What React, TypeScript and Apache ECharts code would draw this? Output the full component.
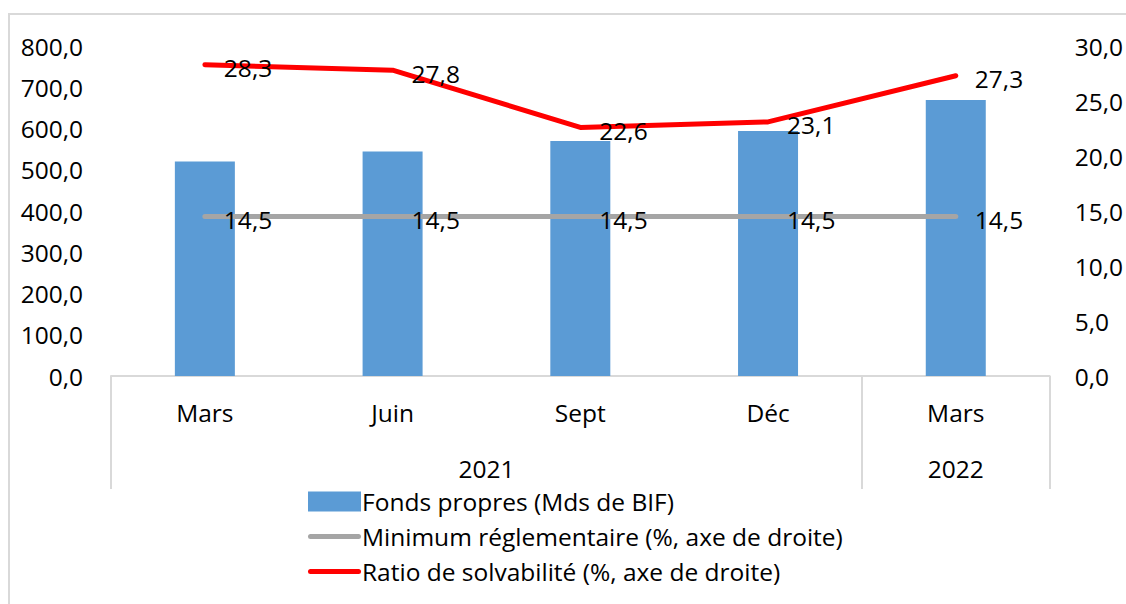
import React, { useEffect, useRef } from "react";
import * as echarts from "echarts";

const categories = ["Mars", "Juin", "Sept", "Déc", "Mars"];
const years = ["2021", "2022"];
const yearCenters = [2, 4.5];
const yearSeparators = [0, 4, 5];
const fondsPropres = [520, 544, 570, 594, 669];
const minimumReglementaire = [14.5, 14.5, 14.5, 14.5, 14.5];
const ratioSolvabilite = [28.3, 27.8, 22.6, 23.1, 27.3];
const seriesNames = [
  "Fonds propres (Mds de BIF)",
  "Minimum réglementaire (%, axe de droite)",
  "Ratio de solvabilité (%, axe de droite)",
];

const FONT = "'Open Sans', 'Noto Sans', sans-serif";
const FS = 24.5;
const fmt = (v: number) => v.toFixed(1).replace(".", ",");
const lineIcon =
  "path://M2.5,0 L50.5,0 A2.5,2.5 0 0 1 50.5,5 L2.5,5 A2.5,2.5 0 0 1 2.5,0 Z";

export default function App() {
  const ref = useRef<HTMLDivElement>(null);
  useEffect(() => {
    if (!ref.current) return;
    const chart = echarts.init(ref.current, null, { renderer: "svg" });
    const labelStyle = {
      show: true,
      position: "right" as const,
      distance: 19,
      offset: [0, 3],
      formatter: (p: any) => fmt(p.value),
      fontFamily: FONT,
      fontSize: FS,
      color: "#000",
    };
    chart.setOption({
      animation: false,
      textStyle: { fontFamily: FONT },
      grid: { left: 111, right: 73, top: 46, bottom: 228, containLabel: false },
      graphic: [
        {
          type: "rect",
          shape: { x: 9, y: 14, width: 1300, height: 800 },
          style: { fill: "none", stroke: "#D9D9D9", lineWidth: 2 },
          silent: true,
          z: -10,
        },
      ],
      legend: {
        orient: "vertical",
        left: 303,
        top: 484,
        itemWidth: 53,
        itemHeight: 20,
        itemGap: 10,
        textStyle: { fontFamily: FONT, fontSize: FS, color: "#000", padding: [0, 0, 0, -4] },
        data: [
          { name: seriesNames[0], icon: "rect" },
          { name: seriesNames[1], icon: lineIcon },
          { name: seriesNames[2], icon: lineIcon },
        ],
      },
      xAxis: [
        {
          type: "category",
          data: categories,
          axisLine: { lineStyle: { color: "#D9D9D9", width: 2 } },
          axisTick: { show: false },
          axisLabel: { margin: 24, fontFamily: FONT, fontSize: FS, color: "#000" },
        },
        {
          type: "value",
          min: 0,
          max: 5,
          position: "bottom",
          splitLine: { show: false },
          axisLine: { show: false },
          axisTick: {
            show: true,
            customValues: yearSeparators,
            length: 113,
            lineStyle: { color: "#D9D9D9", width: 2 },
          },
          axisLabel: {
            customValues: yearCenters,
            formatter: (v: number) => years[yearCenters.indexOf(v)] ?? "",
            margin: 80,
            fontFamily: FONT,
            fontSize: FS,
            color: "#000",
          },
        },
      ],
      yAxis: [
        {
          type: "value",
          min: 0,
          max: 800,
          interval: 100,
          splitLine: { show: false },
          axisLine: { show: false },
          axisTick: { show: false },
          axisLabel: { formatter: fmt, margin: 28, fontFamily: FONT, fontSize: FS, color: "#000" },
        },
        {
          type: "value",
          min: 0,
          max: 30,
          interval: 5,
          splitLine: { show: false },
          axisLine: { show: false },
          axisTick: { show: false },
          axisLabel: { formatter: fmt, margin: 25, fontFamily: FONT, fontSize: FS, color: "#000" },
        },
      ],
      series: [
        {
          name: seriesNames[0],
          type: "bar",
          data: fondsPropres,
          barWidth: 60,
          itemStyle: { color: "#5B9BD5" },
          xAxisIndex: 0,
          yAxisIndex: 0,
        },
        {
          name: seriesNames[1],
          type: "line",
          data: minimumReglementaire,
          xAxisIndex: 0,
          yAxisIndex: 1,
          symbol: "circle",
          symbolSize: 0,
          itemStyle: { color: "#A5A5A5" },
          lineStyle: { color: "#A5A5A5", width: 5, cap: "round", join: "round" },
          label: labelStyle,
        },
        {
          name: seriesNames[2],
          type: "line",
          data: ratioSolvabilite,
          xAxisIndex: 0,
          yAxisIndex: 1,
          symbol: "circle",
          symbolSize: 0,
          itemStyle: { color: "#FF0000" },
          lineStyle: { color: "#FF0000", width: 5, cap: "round", join: "round" },
          label: labelStyle,
        },
      ],
    });
    return () => chart.dispose();
  }, []);
  return (
    <div
      ref={ref}
      style={{ position: "fixed", left: 0, top: 0, width: 1126, height: 604, background: "#fff" }}
    />
  );
}
